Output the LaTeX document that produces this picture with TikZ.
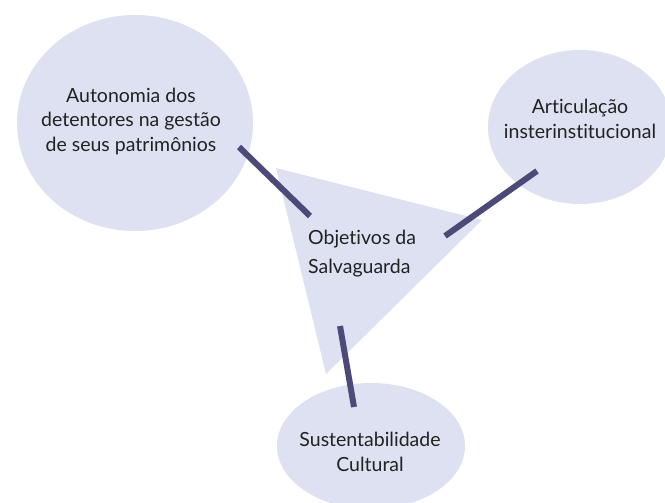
\documentclass[tikz,border=0pt]{standalone}
\usepackage{fontspec}
\setmainfont{Lato}[Ligatures=NoCommon]
\usetikzlibrary{shapes.geometric}
\definecolor{fillc}{HTML}{DDE1F1}
\definecolor{linec}{HTML}{4B4A78}
\definecolor{txtc}{HTML}{222222}
\tikzset{
  blob/.style={fill=fillc, draw=none},
  lbl/.style={text=txtc, font=\fontsize{19.5}{24.5}\selectfont, align=center, inner sep=0pt},
  link/.style={draw=linec, line width=6pt, line cap=butt},
}
\begin{document}
\begin{tikzpicture}[x=1pt,y=-1pt]
\useasboundingbox (0,0) rectangle (665,503);
\begin{scope}
\clip (0,0) rectangle (665,503);
\fill[blob] (135,123) ellipse [x radius=118, y radius=108];
\fill[blob] (580,127) ellipse [x radius=92, y radius=77];
\fill[blob] (371,446) ellipse [x radius=94, y radius=63];
\fill[blob] (276,168) -- (482,220) -- (326,374) -- cycle;
\end{scope}
\node[lbl] (auto) at (131,121) {Autonomia dos\\detentores na gestão\\de seus patrimônios};
\node[lbl] (art) at (580,119) {Articulação\\insterinstitucional};
\node[lbl, align=left, font=\fontsize{19.5}{29}\selectfont, anchor=west] (obj) at (308,254) {Objetivos da\\Salvaguarda};
\node[lbl] (sus) at (370,452) {Sustentabilidade\\Cultural};
\coordinate (a1) at (239,147);
\coordinate (a2) at (310,216);
\coordinate (b1) at (445,236);
\coordinate (b2) at (537,171);
\coordinate (c1) at (340,326);
\coordinate (c2) at (354,407);
\draw[link] (a1) -- (a2);
\draw[link] (b1) -- (b2);
\draw[link] (c1) -- (c2);
\end{tikzpicture}
\end{document}
